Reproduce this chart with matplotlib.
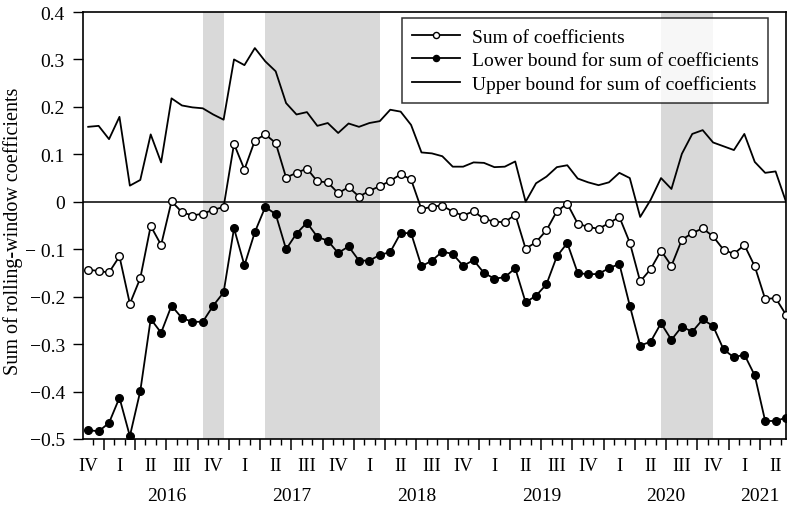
import numpy as np
import matplotlib
matplotlib.use("Agg")
import matplotlib.pyplot as plt
import matplotlib.transforms as mtransforms

plt.rcParams['font.family'] = ['Liberation Serif', 'DejaVu Serif']
plt.rcParams['axes.unicode_minus'] = True

# monthly observations, Nov 2015 .. Jun 2021 (x = months since Jan 2016, mid-month)
months = np.arange(68) - 1.5

sum_coef = [-0.143, -0.146, -0.149, -0.115, -0.215, -0.161, -0.051, -0.091, 0.001, -0.022,
            -0.029, -0.025, -0.017, -0.011, 0.122, 0.068, 0.129, 0.142, 0.124, 0.051,
            0.061, 0.070, 0.043, 0.041, 0.018, 0.031, 0.011, 0.023, 0.033, 0.044,
            0.058, 0.047, -0.016, -0.010, -0.008, -0.021, -0.029, -0.020, -0.036, -0.042,
            -0.043, -0.027, -0.099, -0.085, -0.060, -0.020, -0.004, -0.046, -0.053, -0.057,
            -0.045, -0.032, -0.086, -0.168, -0.142, -0.103, -0.135, -0.080, -0.066, -0.056,
            -0.073, -0.101, -0.110, -0.091, -0.136, -0.205, -0.203, -0.238]

lower = [-0.481, -0.484, -0.466, -0.413, -0.494, -0.399, -0.247, -0.276, -0.219, -0.245,
         -0.253, -0.253, -0.219, -0.191, -0.056, -0.134, -0.064, -0.011, -0.026, -0.100,
         -0.067, -0.044, -0.074, -0.082, -0.108, -0.094, -0.124, -0.124, -0.112, -0.106,
         -0.066, -0.066, -0.136, -0.124, -0.105, -0.110, -0.135, -0.123, -0.150, -0.162,
         -0.159, -0.140, -0.212, -0.198, -0.174, -0.115, -0.087, -0.150, -0.153, -0.152,
         -0.140, -0.131, -0.219, -0.303, -0.295, -0.256, -0.291, -0.263, -0.274, -0.248,
         -0.262, -0.311, -0.328, -0.322, -0.366, -0.462, -0.462, -0.455]

upper = [0.158, 0.160, 0.132, 0.179, 0.034, 0.046, 0.142, 0.083, 0.218, 0.203,
         0.199, 0.197, 0.184, 0.173, 0.300, 0.288, 0.324, 0.296, 0.275, 0.208,
         0.184, 0.189, 0.160, 0.166, 0.145, 0.165, 0.158, 0.166, 0.170, 0.194,
         0.190, 0.162, 0.104, 0.102, 0.096, 0.074, 0.074, 0.083, 0.082, 0.073,
         0.074, 0.085, 0.000, 0.039, 0.053, 0.073, 0.077, 0.049, 0.041, 0.035,
         0.041, 0.061, 0.050, -0.032, 0.004, 0.050, 0.027, 0.101, 0.143, 0.151,
         0.125, 0.117, 0.109, 0.143, 0.084, 0.061, 0.064, 0.000]

# shaded periods (start/end observation index)
shaded = [(11, 13), (17, 28), (55, 60)]

quarter_names = ['IV'] + ['I', 'II', 'III', 'IV'] * 5 + ['I', 'II']
quarter_years = [2015] + [y for y in range(2016, 2021) for _ in range(4)] + [2021, 2021]
years = [2016, 2017, 2018, 2019, 2020, 2021]

fig = plt.figure(figsize=(7.87, 5.06), dpi=100)
ax = fig.add_axes([83 / 787, 1 - 440 / 506, 703 / 787, 427 / 506])

for a, b in shaded:
    ax.axvspan(months[a], months[b], color='#d9d9d9', lw=0, zorder=0)

ax.axhline(0, color='black', lw=1.1, zorder=1)

ax.plot(months, sum_coef, color='black', lw=1.3, marker='o', ms=5.5,
        mfc='white', mec='black', mew=1.0, label='Sum of coefficients', zorder=3)
ax.plot(months, lower, color='black', lw=1.3, marker='o', ms=5.5,
        mfc='black', mec='black', label='Lower bound for sum of coefficients', zorder=3)
ax.plot(months, upper, color='black', lw=1.3,
        label='Upper bound for sum of coefficients', zorder=3)

ax.set_xlim(-2, 65.5)
ax.set_ylim(-0.5, 0.4)
ax.set_yticks(np.arange(-0.5, 0.41, 0.1))
ax.set_yticklabels(['\u22120.5', '\u22120.4', '\u22120.3', '\u22120.2', '\u2212 0.1',
                    '0', '0.1', '0.2', '0.3', '0.4'])
ax.tick_params(axis='y', direction='out', length=7, width=1, pad=6, labelsize=14)

ax.set_xticks(np.arange(0, 66, 3))
ax.set_xticks(np.arange(-1, 66, 1), minor=True)
ax.set_xticklabels([])
ax.tick_params(axis='x', which='major', direction='out', length=8, width=1.1)
ax.tick_params(axis='x', which='minor', direction='out', length=4, width=1)

for s in ax.spines.values():
    s.set_linewidth(1.2)

trans = mtransforms.blended_transform_factory(ax.transData, fig.transFigure)
qcenters = [-1.5 + 3 * k for k in range(len(quarter_names))]
for xc, name in zip(qcenters, quarter_names):
    ax.text(xc, 1 - 467 / 506, name, transform=trans, ha='center', va='center',
            fontsize=13.5, clip_on=False)
for yr in years:
    pos = [xc for xc, qy in zip(qcenters, quarter_years) if qy == yr]
    ax.text(np.mean(pos), 1 - 497 / 506, str(yr), transform=trans, ha='center',
            va='center', fontsize=14, clip_on=False)

ax.set_ylabel('Sum of rolling-window coefficients', fontsize=14.5)
ax.yaxis.set_label_coords((23 - 83) / 703, 1 - (231 - 13) / 427)

leg = ax.legend(loc='upper right', bbox_to_anchor=(0.975, 0.985), borderaxespad=0,
                fontsize=14, frameon=True, fancybox=False, edgecolor='black',
                handlelength=2.5, handletextpad=0.6, labelspacing=0.3, borderpad=0.5,
                markerscale=0.8)
leg.get_frame().set_linewidth(1.1)

fig.savefig('out.png', dpi=100)
